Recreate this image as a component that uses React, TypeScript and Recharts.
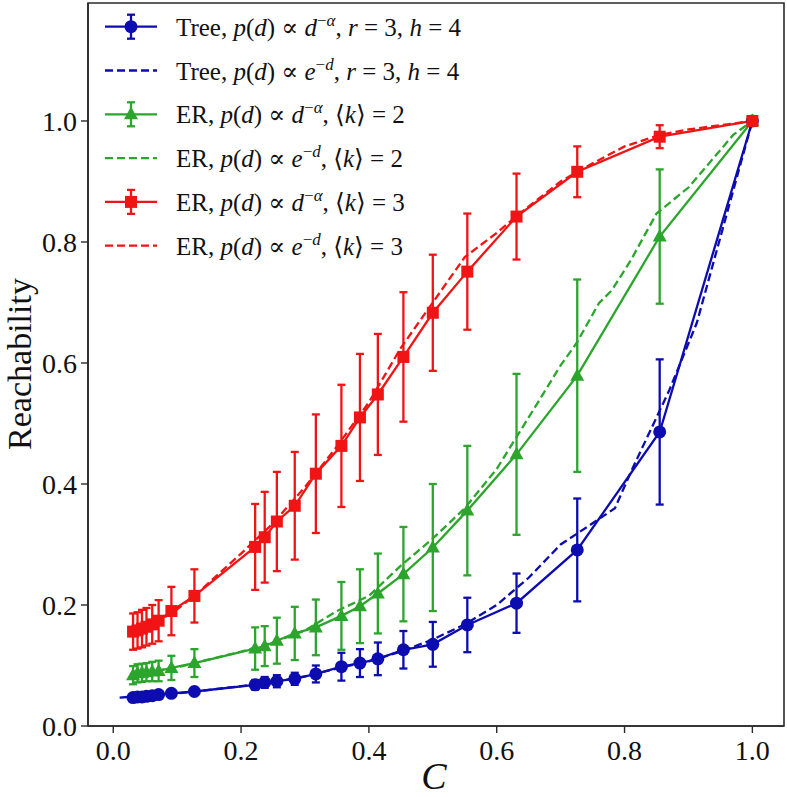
import React from "react";
import { ComposedChart, Line, XAxis, YAxis, ErrorBar, ReferenceArea } from "recharts";

// C values where the markers sit (shared by the three d^-alpha series)
const cValues = [
  0.031, 0.038, 0.045, 0.052, 0.061, 0.071, 0.091, 0.127, 0.222, 0.237, 0.256, 0.284,
  0.317, 0.357, 0.386, 0.414, 0.454, 0.5, 0.554, 0.631, 0.726, 0.855, 1.0,
];

const treePow = [
  0.047, 0.048, 0.048, 0.049, 0.05, 0.052, 0.054, 0.057, 0.068, 0.072, 0.074, 0.078,
  0.086, 0.098, 0.104, 0.111, 0.126, 0.135, 0.167, 0.203, 0.291, 0.486, 1.0,
];
const treePowErr = [
  0.003, 0.003, 0.003, 0.003, 0.003, 0.003, 0.004, 0.005, 0.008, 0.009, 0.01, 0.01,
  0.014, 0.023, 0.023, 0.027, 0.031, 0.037, 0.045, 0.049, 0.085, 0.12, 0.0,
];

const erK2Pow = [
  0.084, 0.087, 0.088, 0.089, 0.09, 0.091, 0.096, 0.104, 0.128, 0.132, 0.141, 0.153,
  0.163, 0.182, 0.198, 0.219, 0.251, 0.295, 0.356, 0.449, 0.579, 0.809, 1.0,
];
const erK2PowErr = [
  0.015, 0.015, 0.015, 0.015, 0.016, 0.017, 0.02, 0.023, 0.035, 0.033, 0.038, 0.044,
  0.046, 0.056, 0.061, 0.066, 0.078, 0.105, 0.107, 0.133, 0.159, 0.111, 0.003,
];

const erK3Pow = [
  0.156, 0.158, 0.161, 0.164, 0.168, 0.174, 0.19, 0.215, 0.296, 0.312, 0.338, 0.364,
  0.417, 0.463, 0.51, 0.548, 0.61, 0.683, 0.751, 0.842, 0.916, 0.974, 1.0,
];
const erK3PowErr = [
  0.03, 0.03, 0.031, 0.031, 0.032, 0.034, 0.04, 0.044, 0.071, 0.075, 0.082, 0.089,
  0.098, 0.101, 0.105, 0.1, 0.107, 0.096, 0.096, 0.071, 0.042, 0.019, 0.002,
];

// e^-d curves (dashed)
const treeExpC = [0.01, 0.05, 0.1, 0.13, 0.2, 0.25, 0.3, 0.35, 0.4, 0.45, 0.5, 0.55, 0.6, 0.65, 0.7, 0.75, 0.785, 0.81, 0.87, 0.913, 1.0];
const treeExp = [0.047, 0.05, 0.054, 0.057, 0.066, 0.073, 0.082, 0.095, 0.107, 0.123, 0.143, 0.168, 0.2, 0.245, 0.3, 0.335, 0.36, 0.42, 0.555, 0.666, 1.0];

const erK2ExpC = [0.03, 0.06, 0.1, 0.15, 0.2, 0.25, 0.3, 0.35, 0.4, 0.45, 0.5, 0.55, 0.6, 0.65, 0.7, 0.725, 0.76, 0.78, 0.81, 0.85, 0.9, 0.97, 1.0];
const erK2Exp = [0.085, 0.09, 0.097, 0.11, 0.123, 0.138, 0.158, 0.19, 0.215, 0.265, 0.31, 0.36, 0.425, 0.51, 0.596, 0.633, 0.699, 0.72, 0.77, 0.847, 0.89, 0.977, 1.0];

const erK3ExpC = [0.03, 0.05, 0.07, 0.1, 0.13, 0.2, 0.25, 0.3, 0.35, 0.4, 0.45, 0.5, 0.55, 0.6, 0.63, 0.7, 0.75, 0.8, 0.855, 0.9, 1.0];
const erK3Exp = [0.155, 0.163, 0.173, 0.193, 0.218, 0.285, 0.335, 0.395, 0.462, 0.535, 0.625, 0.7, 0.775, 0.815, 0.842, 0.9, 0.93, 0.958, 0.977, 0.986, 1.0];

const xTicks = [0, 0.2, 0.4, 0.6, 0.8, 1.0];
const yTicks = [0, 0.2, 0.4, 0.6, 0.8, 1.0];

const BLUE = "#0c0cb0";
const GREEN = "#2ca52c";
const RED = "#f01414";
const AXIS = "#2a2a2a";
const SERIF = "'Liberation Serif', 'DejaVu Serif', serif";

const pts = (xs: number[], ys: number[], es?: number[]) =>
  xs.map((x, i) => ({ x, y: ys[i], e: es ? es[i] : 0 }));

type Shape = "circle" | "triangle" | "square";

function drawMarker(shape: Shape, color: string, cx: number, cy: number, key?: any) {
  if (shape === "circle") return <circle key={key} cx={cx} cy={cy} r={6.5} fill={color} />;
  if (shape === "square")
    return <rect key={key} x={cx - 6} y={cy - 6} width={12} height={12} fill={color} />;
  return (
    <polygon
      key={key}
      points={`${cx},${cy - 7.5} ${cx - 7},${cy + 5} ${cx + 7},${cy + 5}`}
      fill={color}
    />
  );
}

const dotFor = (shape: Shape, color: string) => (p: any) => {
  if (p.cx == null || p.cy == null) return <g key={p.index} />;
  return drawMarker(shape, color, p.cx, p.cy, p.index);
};

const series = [
  { name: "tree-pow", color: BLUE, shape: "circle" as Shape, data: pts(cValues, treePow, treePowErr), dashed: false },
  { name: "tree-exp", color: BLUE, shape: null, data: pts(treeExpC, treeExp), dashed: true },
  { name: "k2-pow", color: GREEN, shape: "triangle" as Shape, data: pts(cValues, erK2Pow, erK2PowErr), dashed: false },
  { name: "k2-exp", color: GREEN, shape: null, data: pts(erK2ExpC, erK2Exp), dashed: true },
  { name: "k3-pow", color: RED, shape: "square" as Shape, data: pts(cValues, erK3Pow, erK3PowErr), dashed: false },
  { name: "k3-exp", color: RED, shape: null, data: pts(erK3ExpC, erK3Exp), dashed: true },
];

const it = (s: string) => <tspan fontStyle="italic">{s}</tspan>;

// mathtext-ish legend label, spaces widened a little like matplotlib does
function LegendText({ net, kernel, k }: { net: string; kernel: "pow" | "exp"; k: number | null }) {
  return (
    <>
      <tspan>{net}, </tspan>
      {it("p")}
      <tspan>(</tspan>
      {it("d")}
      <tspan>) ∝ </tspan>
      {it(kernel === "pow" ? "d" : "e")}
      <tspan dy={-10} fontSize={17}>−</tspan>
      <tspan fontSize={17} fontStyle="italic">{kernel === "pow" ? "α" : "d"}</tspan>
      <tspan dy={10}>, </tspan>
      {k == null ? (
        <>
          {it("r")}
          <tspan> = 3, </tspan>
          {it("h")}
          <tspan> = 4</tspan>
        </>
      ) : (
        <>
          <tspan>⟨</tspan>
          {it("k")}
          <tspan>⟩ = {k}</tspan>
        </>
      )}
    </>
  );
}

const legendRows = [
  { color: BLUE, shape: "circle" as Shape, dashed: false, net: "Tree", kernel: "pow" as const, k: null },
  { color: BLUE, shape: null, dashed: true, net: "Tree", kernel: "exp" as const, k: null },
  { color: GREEN, shape: "triangle" as Shape, dashed: false, net: "ER", kernel: "pow" as const, k: 2 },
  { color: GREEN, shape: null, dashed: true, net: "ER", kernel: "exp" as const, k: 2 },
  { color: RED, shape: "square" as Shape, dashed: false, net: "ER", kernel: "pow" as const, k: 3 },
  { color: RED, shape: null, dashed: true, net: "ER", kernel: "exp" as const, k: 3 },
];

function Overlay() {
  return (
    <svg
      width={787}
      height={797}
      style={{ position: "absolute", left: 0, top: 0, pointerEvents: "none" }}
    >
      {legendRows.map((r, i) => {
        const y = 26.7 + i * 43.8;
        return (
          <g key={i}>
            <line
              x1={105}
              x2={157}
              y1={y}
              y2={y}
              stroke={r.color}
              strokeWidth={2.3}
              strokeDasharray={r.dashed ? "8 4" : undefined}
            />
            {r.shape && (
              <>
                <line x1={131} x2={131} y1={y - 12} y2={y + 12} stroke={r.color} strokeWidth={2.3} />
                <line x1={127} x2={135} y1={y - 12} y2={y - 12} stroke={r.color} strokeWidth={2.3} />
                <line x1={127} x2={135} y1={y + 12} y2={y + 12} stroke={r.color} strokeWidth={2.3} />
                {drawMarker(r.shape, r.color, 131, y)}
              </>
            )}
            <text x={176} y={y + 9} fontFamily={SERIF} fontSize={25} fill="#111">
              <LegendText net={r.net} kernel={r.kernel} k={r.k} />
            </text>
          </g>
        );
      })}
      <text
        x={31}
        y={364}
        transform="rotate(-90, 31, 364)"
        textAnchor="middle"
        fontFamily={SERIF}
        fontSize={34}
        fill="#111"
      >
        Reachability
      </text>
      <text x={434} y={789} textAnchor="middle" fontFamily={SERIF} fontStyle="italic" fontSize={38} fill="#111">
        C
      </text>
    </svg>
  );
}

export default function App() {
  return (
    <div style={{ position: "absolute", left: 0, top: 0, width: 787, height: 797, background: "#fff" }}>
      <ComposedChart width={787} height={797} margin={{ top: 3, right: 3, bottom: 0, left: 0 }}>
        <XAxis
          dataKey="x"
          type="number"
          domain={[-0.0395, 1.0495]}
          ticks={xTicks}
          allowDataOverflow
          height={71}
          tickFormatter={(v: number) => v.toFixed(1)}
          tick={{ fill: "#111", fontSize: 28, fontFamily: SERIF }}
          tickSize={7}
          tickMargin={7}
          axisLine={{ stroke: AXIS, strokeWidth: 1.6 }}
          tickLine={{ stroke: AXIS, strokeWidth: 1.4 }}
        />
        <YAxis
          dataKey="y"
          type="number"
          domain={[0, 1.195]}
          ticks={yTicks}
          allowDataOverflow
          width={88}
          tickFormatter={(v: number) => v.toFixed(1)}
          tick={{ fill: "#111", fontSize: 28, fontFamily: SERIF }}
          tickSize={7}
          tickMargin={4}
          axisLine={{ stroke: AXIS, strokeWidth: 1.6 }}
          tickLine={{ stroke: AXIS, strokeWidth: 1.4 }}
        />
        <ReferenceArea
          x1={-0.0395}
          x2={1.0495}
          y1={0}
          y2={1.195}
          fill="none"
          stroke={AXIS}
          strokeWidth={1.6}
          ifOverflow="visible"
        />
        {series.map((s) => (
          <Line
            key={s.name}
            data={s.data}
            dataKey="y"
            type="linear"
            stroke={s.color}
            strokeWidth={2.3}
            strokeDasharray={s.dashed ? "8 4" : undefined}
            dot={s.shape ? dotFor(s.shape, s.color) : false}
            activeDot={false}
            isAnimationActive={false}
          >
            {!s.dashed && (
              <ErrorBar dataKey="e" direction="y" width={4} stroke={s.color} strokeWidth={2.3} />
            )}
          </Line>
        ))}
      </ComposedChart>
      <Overlay />
    </div>
  );
}
